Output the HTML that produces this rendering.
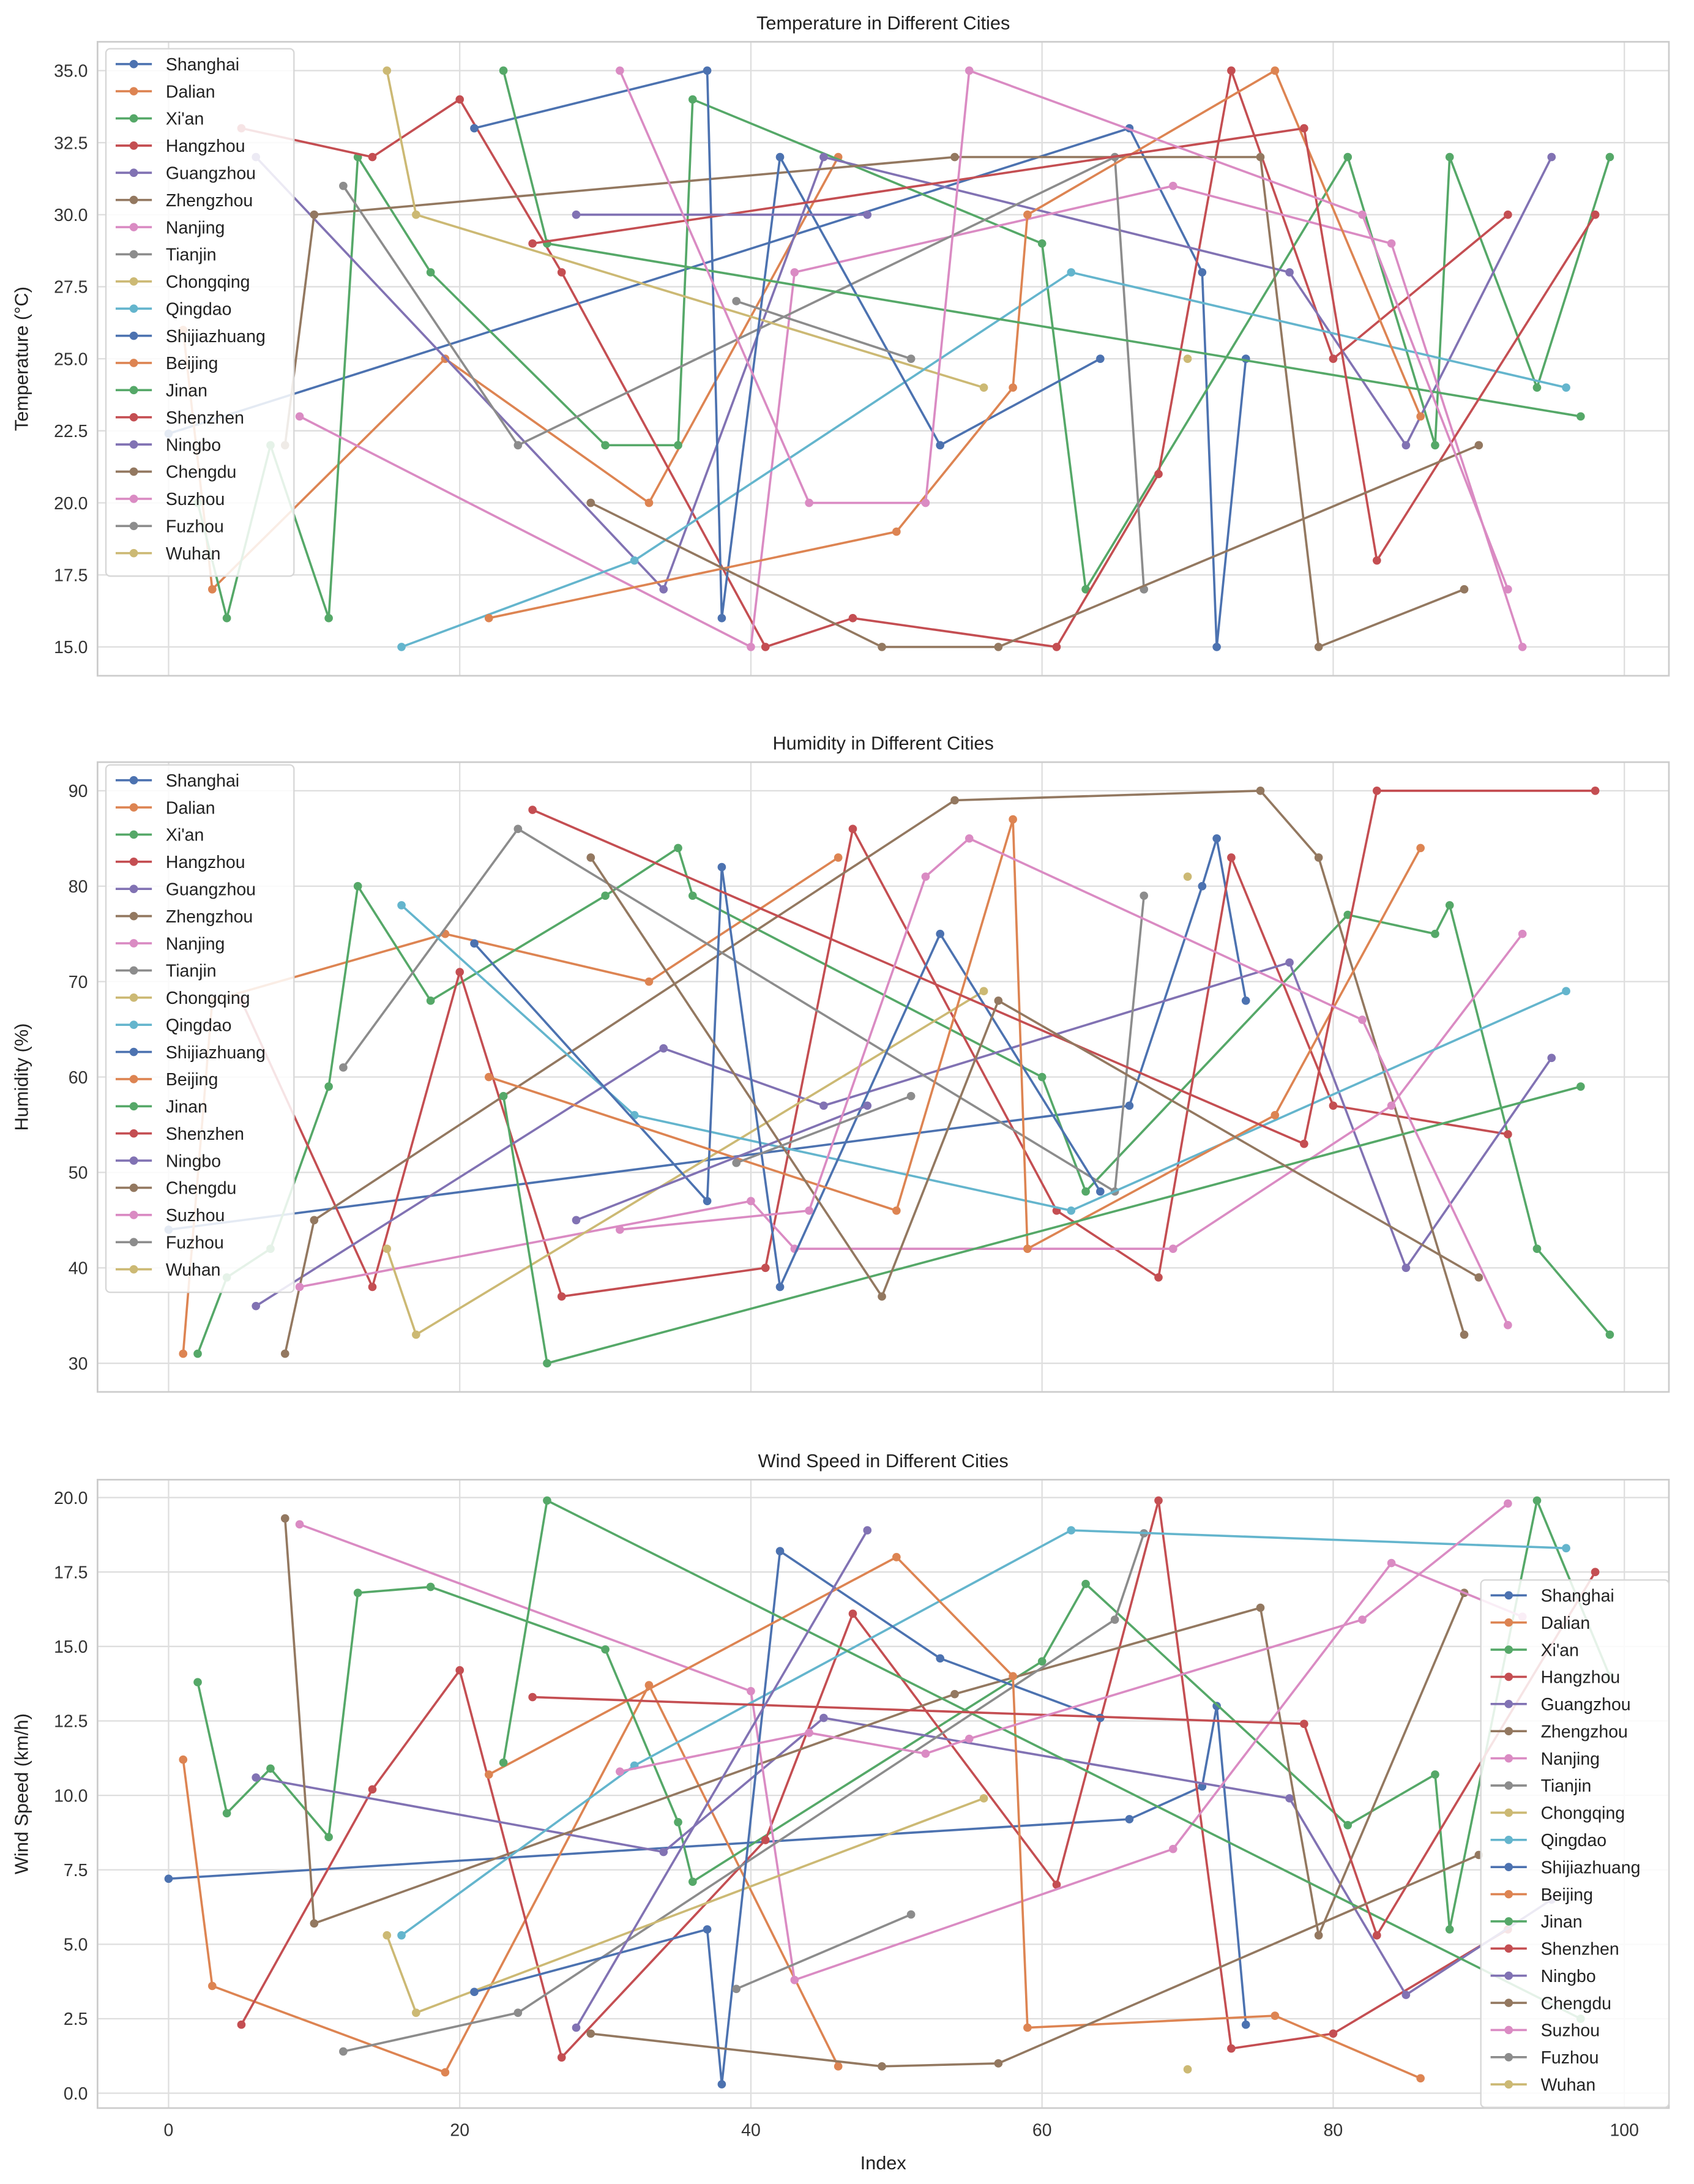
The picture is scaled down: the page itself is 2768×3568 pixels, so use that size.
<!DOCTYPE html>
<html><head><meta charset="utf-8">
<style>
html,body{margin:0;padding:0;background:#fff;}
svg{display:block;font-family:"Liberation Sans","DejaVu Sans",sans-serif;}
</style></head>
<body>
<svg id="chart" width="2768" height="3568" viewBox="0 0 1216 1567.5" xmlns="http://www.w3.org/2000/svg"></svg>
<script>
const cityNames = ["Shanghai","Dalian","Xi'an","Hangzhou","Guangzhou","Zhengzhou","Nanjing","Tianjin","Chongqing","Qingdao","Shijiazhuang","Beijing","Jinan","Shenzhen","Ningbo","Chengdu","Suzhou","Fuzhou","Wuhan"];
const cityColors = ["#4C72B0","#DD8452","#55A868","#C44E52","#8172B3","#937860","#DA8BC3","#8C8C8C","#CCB974","#64B5CD","#4C72B0","#DD8452","#55A868","#C44E52","#8172B3","#937860","#DA8BC3","#8C8C8C","#CCB974"];
const cityIndices = [
 [0,66,71,72,74],
 [1,3,19,33,46],
 [2,4,7,11,13,18,30,35,36,60,63,81,87,88,94,99],
 [5,14,20,27,41,47,61,68,73,80,92],
 [6,34,45,77,85,95],
 [8,10,54,75,79,89],
 [9,40,43,69,84,93],
 [12,24,65,67],
 [15,17,56],
 [16,32,62,96],
 [21,37,38,42,53,64],
 [22,50,58,59,76,86],
 [23,26,97],
 [25,78,83,98],
 [28,48],
 [29,49,57,90],
 [31,44,52,55,82,92],
 [39,51],
 [70]
];
const tempValues = [
 [22.4,33,28,15,25],
 [26,17,25,20,32],
 [20,16,22,16,32,28,22,22,34,29,17,32,22,32,24,32],
 [33,32,34,28,15,16,15,21,35,25,30],
 [32,17,32,28,22,32],
 [22,30,32,32,15,17],
 [23,15,28,31,29,15],
 [31,22,32,17],
 [35,30,24],
 [15,18,28,24],
 [33,35,16,32,22,25],
 [16,19,24,30,35,23],
 [35,29,23],
 [29,33,18,30],
 [30,30],
 [20,15,15,22],
 [35,20,20,35,30,17],
 [27,25],
 [25]
];
const humidityValues = [
 [44,57,80,85,68],
 [31,68,75,70,83],
 [31,39,42,59,80,68,79,84,79,60,48,77,75,78,42,33],
 [68,38,71,37,40,86,46,39,83,57,54],
 [36,63,57,72,40,62],
 [31,45,89,90,83,33],
 [38,47,42,42,57,75],
 [61,86,48,79],
 [42,33,69],
 [78,56,46,69],
 [74,47,82,38,75,48],
 [60,46,87,42,56,84],
 [58,30,59],
 [88,53,90,90],
 [45,57],
 [83,37,68,39],
 [44,46,81,85,66,34],
 [51,58],
 [81]
];
const windValues = [
 [7.2,9.2,10.3,13,2.3],
 [11.2,3.6,0.7,13.7,0.9],
 [13.8,9.4,10.9,8.6,16.8,17,14.9,9.1,7.1,14.5,17.1,9,10.7,5.5,19.9,14],
 [2.3,10.2,14.2,1.2,8.5,16.1,7,19.9,1.5,2,5.5],
 [10.6,8.1,12.6,9.9,3.3,6.5],
 [19.3,5.7,13.4,16.3,5.3,16.8],
 [19.1,13.5,3.8,8.2,17.8,16],
 [1.4,2.7,15.9,18.8],
 [5.3,2.7,9.9],
 [5.3,11,18.9,18.3],
 [3.4,5.5,0.3,18.2,14.6,12.6],
 [10.7,18,14,2.2,2.6,0.5],
 [11.1,19.9,2.5],
 [13.3,12.4,5.3,17.5],
 [2.2,18.9],
 [2,0.9,1,8],
 [10.8,12.1,11.4,11.9,15.9,19.8],
 [3.5,6],
 [0.8]
];
const xTicks = [0,20,40,60,80,100];
const tempTicks = [15,17.5,20,22.5,25,27.5,30,32.5,35];
const humTicks = [30,40,50,60,70,80,90];
const windTicks = [0,2.5,5,7.5,10,12.5,15,17.5,20];

const NS="http://www.w3.org/2000/svg";
const svg=document.getElementById('chart');
function mk(tag,attrs,parent){const e=document.createElementNS(NS,tag);for(const k in attrs)e.setAttribute(k,attrs[k]);(parent||svg).appendChild(e);return e;}
const L=70,R=1198,XMIN=-4.88,XMAX=103.06;
function xs(v){return L+(v-XMIN)/(XMAX-XMIN)*(R-L);}

const panels=[
 {title:"Temperature in Different Cities",ylabel:"Temperature (°C)",top:30,bot:485,ymin:14,ymax:36,vals:tempValues,ticks:tempTicks,fmt:v=>v.toFixed(1),legend:{x:76,y:35},name:'temperature'},
 {title:"Humidity in Different Cities",ylabel:"Humidity (%)",top:547,bot:999,ymin:27,ymax:93,vals:humidityValues,ticks:humTicks,fmt:v=>String(v),legend:{x:76,y:549},name:'humidity'},
 {title:"Wind Speed in Different Cities",ylabel:"Wind Speed (km/h)",top:1062,bot:1513,ymin:-0.5,ymax:20.6,vals:windValues,ticks:windTicks,fmt:v=>v.toFixed(1),legend:{x:1063,y:1134},name:'wind-speed'}
];

panels.forEach((p,pi)=>{
 const g=mk('g',{});
 
 
 const ys=v=>p.bot-(v-p.ymin)/(p.ymax-p.ymin)*(p.bot-p.top);
 xTicks.forEach(t=>{const x=xs(t);
  const gl=mk('line',{x1:x,x2:x,y1:p.top,y2:p.bot,stroke:'#dedede','stroke-width':1},g);
  
  
  if(pi===2){const tl=mk('text',{x:x,y:p.bot+20,'text-anchor':'middle','font-size':12.5,fill:'#333'},g);tl.textContent=t;
   
   }
 });
 p.ticks.forEach(t=>{const y=ys(t);
  const gl=mk('line',{x1:L,x2:R,y1:y,y2:y,stroke:'#dedede','stroke-width':1},g);
  
  
  const tl=mk('text',{x:L-7,y:y+4.5,'text-anchor':'end','font-size':12.5,fill:'#333'},g);tl.textContent=p.fmt(t);
  
  
 });
 const fr=mk('rect',{x:L,y:p.top,width:R-L,height:p.bot-p.top,fill:'none',stroke:'#cccccc','stroke-width':1.2},g);
 
 
 const tt=mk('text',{x:(L+R)/2,y:p.top-9,'text-anchor':'middle','font-size':13.5,fill:'#222'},g);tt.textContent=p.title;
 
 
 const yc=(p.top+p.bot)/2;
 const yl=mk('text',{x:20,y:yc,'text-anchor':'middle','font-size':13.5,fill:'#222',transform:`rotate(-90 20 ${yc})`},g);yl.textContent=p.ylabel;
 
 
 cityNames.forEach((c,ci)=>{
  const sg=mk('g',{},g);
  
  
  const pts=cityIndices[ci].map((xi,k)=>[xs(xi),ys(p.vals[ci][k])]);
  if(pts.length>1){const pl=mk('polyline',{points:pts.map(q=>q.join(',')).join(' '),fill:'none',stroke:cityColors[ci],'stroke-width':1.6},sg);
   
   }
  pts.forEach(q=>{const m=mk('circle',{cx:q[0],cy:q[1],r:3,fill:cityColors[ci]},sg);
   
   });
 });
 const lg=mk('g',{},g);
 
 
 const lx=p.legend.x,ly=p.legend.y,lw=135,lh=cityNames.length*19.5+8;
 mk('rect',{x:lx,y:ly,width:lw,height:lh,rx:3,fill:'#fff','fill-opacity':0.85,stroke:'#d6d6d6'},lg);
 cityNames.forEach((c,ci)=>{
  const y=ly+11+ci*19.5;
  const le=mk('g',{},lg);
  
  
  mk('line',{x1:lx+7,x2:lx+33,y1:y,y2:y,stroke:cityColors[ci],'stroke-width':1.6},le);
  mk('circle',{cx:lx+20,cy:y,r:3,fill:cityColors[ci]},le);
  const t=mk('text',{x:lx+43,y:y+4.5,'font-size':12.5,fill:'#222'},le);t.textContent=c;
 });
});
const xt=mk('text',{x:(L+R)/2,y:1557,'text-anchor':'middle','font-size':13.5,fill:'#222'});
xt.textContent='Index';


</script>
</body></html>
